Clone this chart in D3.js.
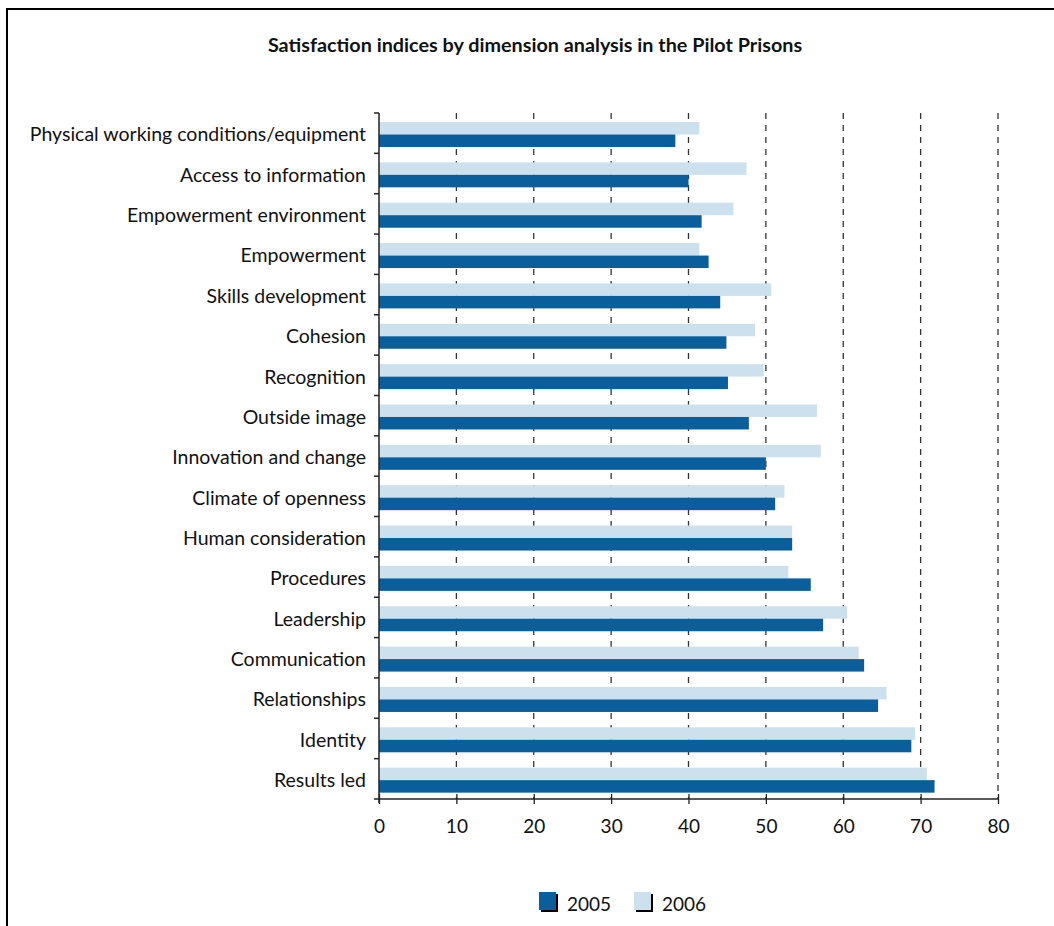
<!DOCTYPE html>
<html>
<head>
<meta charset="utf-8">
<title>Satisfaction indices</title>
<script src="https://d3js.org/d3.v7.min.js"></script>
<style>
  body { margin: 0; background: #fff; }
  text { font-family: 'Lato', 'Open Sans', sans-serif; fill: #111; }
  .grid line { stroke: #333; stroke-width: 1.3; stroke-dasharray: 6,6; }
</style>
</head>
<body>
<div id="chart"></div>
<script>
var categories = ['Physical working conditions/equipment', 'Access to information', 'Empowerment environment',
  'Empowerment', 'Skills development', 'Cohesion', 'Recognition', 'Outside image', 'Innovation and change',
  'Climate of openness', 'Human consideration', 'Procedures', 'Leadership', 'Communication',
  'Relationships', 'Identity', 'Results led'];
var values2005 = [38.3, 40.0, 41.7, 42.6, 44.1, 44.9, 45.1, 47.8, 50.0, 51.2, 53.4, 55.8, 57.4, 62.7, 64.5, 68.8, 71.8];
var values2006 = [41.4, 47.5, 45.8, 41.4, 50.7, 48.6, 49.7, 56.6, 57.1, 52.4, 53.4, 52.9, 60.5, 62.0, 65.6, 69.3, 70.8];
var seriesNames = ['2005', '2006'];
var xTicks = [0, 10, 20, 30, 40, 50, 60, 70, 80];

var width = 1054, height = 926;
var colors = { '2005': '#0a5e9b', '2006': '#cde0ee' };

var svg = d3.select('#chart').append('svg')
  .attr('width', width).attr('height', height);

// frame
svg.append('path')
  .attr('d', 'M7,926V9H1054')
  .attr('fill', 'none').attr('stroke', '#000').attr('stroke-width', 2);

svg.append('text')
  .attr('x', 535).attr('y', 52)
  .attr('text-anchor', 'middle')
  .style('font-size', '19.8px').style('font-weight', 'bold')
  .text('Satisfaction indices by dimension analysis in the Pilot Prisons');

var x = d3.scaleLinear().domain([0, 80]).range([379, 998]);
var y = d3.scaleBand().domain(categories).range([113, 799]);
var ySeries = d3.scaleBand().domain(['2006', '2005']).range([9, 34]);

// gridlines
svg.append('g').attr('class', 'grid')
  .selectAll('line').data(xTicks.slice(1)).join('line')
  .attr('x1', d => x(d)).attr('x2', d => x(d))
  .attr('y1', 113).attr('y2', 799);

var rows = categories.map(function(c, i) {
  return { cat: c, '2005': values2005[i], '2006': values2006[i] };
});

var groups = svg.append('g').selectAll('g').data(rows).join('g')
  .attr('transform', d => 'translate(0,' + y(d.cat) + ')');

groups.selectAll('rect').data(d => ['2006', '2005'].map(k => ({ key: k, value: d[k] }))).join('rect')
  .attr('x', x(0))
  .attr('y', d => ySeries(d.key))
  .attr('width', d => x(d.value) - x(0))
  .attr('height', ySeries.bandwidth())
  .attr('fill', d => colors[d.key]);

// y axis with category labels
var yAxis = svg.append('g')
  .attr('transform', 'translate(' + x(0) + ',2)')
  .call(d3.axisLeft(y).tickSize(0).tickPadding(13));
yAxis.select('.domain').remove();
yAxis.selectAll('text').style('font-size', '19.5px').attr('fill', '#111');

// y axis line and boundary ticks
var bounds = categories.map(c => y(c));
svg.append('line')
  .attr('x1', x(0)).attr('x2', x(0)).attr('y1', 113).attr('y2', 803)
  .attr('stroke', '#222').attr('stroke-width', 1.5);
svg.append('g').selectAll('line').data(bounds).join('line')
  .attr('x1', x(0) - 5).attr('x2', x(0))
  .attr('y1', d => d).attr('y2', d => d)
  .attr('stroke', '#222').attr('stroke-width', 1.5);

// x axis
var xAxis = svg.append('g')
  .attr('transform', 'translate(0,799)')
  .call(d3.axisBottom(x).tickValues(xTicks).tickSize(5).tickPadding(16));
xAxis.select('.domain').attr('d', 'M' + (x(0) - 5) + ',0H' + x(80)).attr('stroke', '#222').attr('stroke-width', 1.5);
xAxis.selectAll('.tick line').attr('y1', -5).attr('y2', 5).attr('stroke', '#222').attr('stroke-width', 1.3);
xAxis.selectAll('text').style('font-size', '19px').attr('fill', '#111');

// legend
var legend = svg.append('g').selectAll('g').data(seriesNames).join('g')
  .attr('transform', (d, i) => 'translate(' + (539 + i * 95) + ',892)');
legend.append('rect').attr('x', 2).attr('y', 2).attr('width', 17).attr('height', 18).attr('fill', '#000');
legend.append('rect').attr('width', 17).attr('height', 18).attr('fill', d => colors[d]);
legend.append('text').attr('x', 28).attr('y', 19).style('font-size', '19px').text(d => d);
</script>
</body>
</html>
